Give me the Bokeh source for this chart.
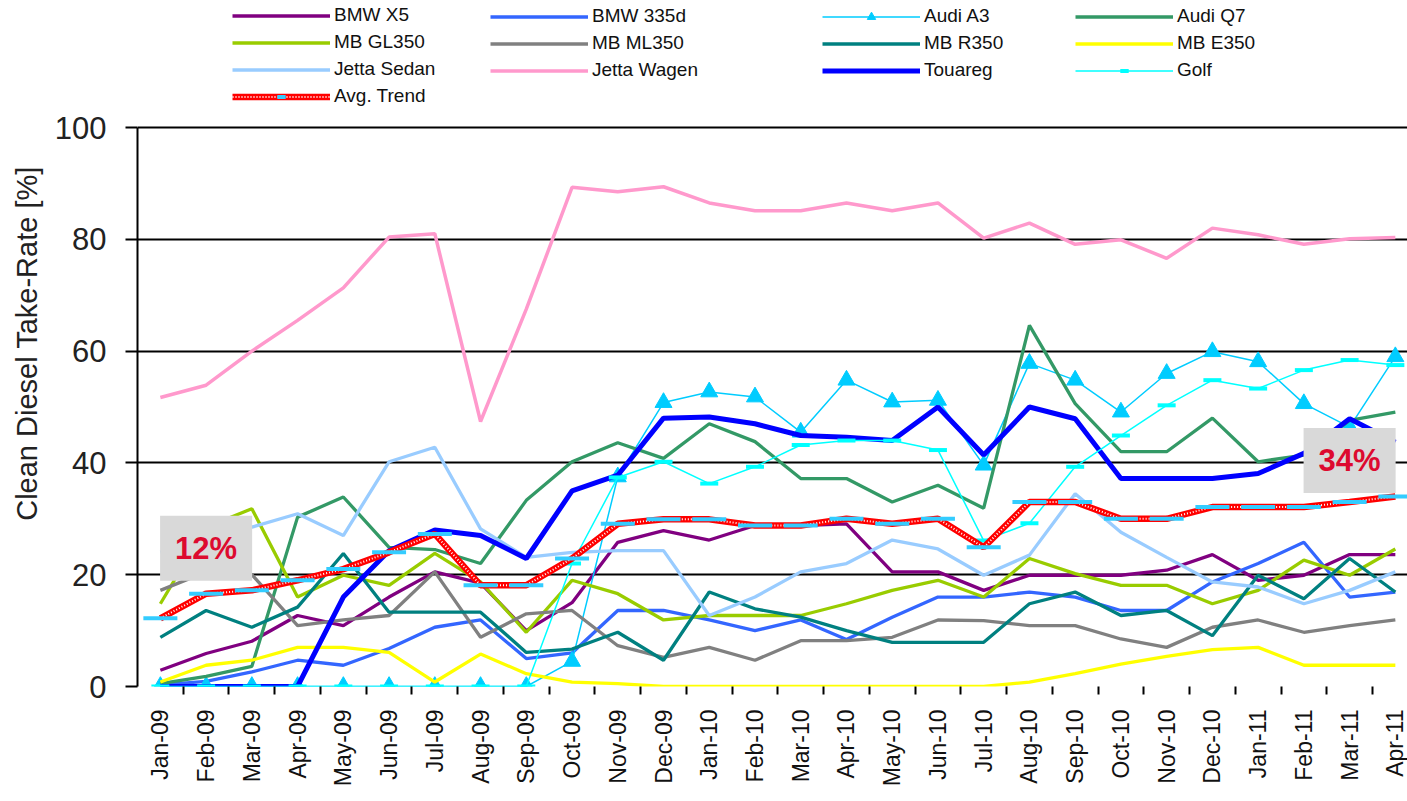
from math import pi
from bokeh.plotting import figure
from bokeh.models import (Range1d, FixedTicker, Legend, LegendItem, Label,
                          ColumnDataSource)
from bokeh.embed import file_html
from bokeh.resources import INLINE

months = ["Jan-09", "Feb-09", "Mar-09", "Apr-09", "May-09", "Jun-09", "Jul-09",
          "Aug-09", "Sep-09", "Oct-09", "Nov-09", "Dec-09", "Jan-10", "Feb-10",
          "Mar-10", "Apr-10", "May-10", "Jun-10", "Jul-10", "Aug-10", "Sep-10",
          "Oct-10", "Nov-10", "Dec-10", "Jan-11", "Feb-11", "Mar-11", "Apr-11"]

bmw_x5 = [2.9, 5.9, 8.1, 12.7, 10.9, 16.0, 20.5, 18.5, 10.0, 15.0,
          25.8, 27.9, 26.2, 28.8, 28.8, 29.1, 20.5, 20.5, 17.2, 19.9,
          19.9, 19.9, 20.8, 23.6, 19.0, 19.9, 23.6, 23.6]
bmw_335d = [0.3, 0.9, 2.6, 4.7, 3.8, 6.8, 10.6, 11.9, 5.0, 6.0,
            13.6, 13.6, 11.9, 10.0, 11.9, 8.4, 12.4, 16.0, 16.0, 16.9,
            16.0, 13.6, 13.6, 18.7, 22.0, 25.8, 16.0, 16.9]
audi_a3 = [0, 0, 0, 0, 0, 0, 0, 0, 0, 4.5,
           37.5, 50.8, 52.7, 51.8, 45.5, 54.8, 50.9, 51.2, 39.6, 57.8,
           54.8, 49.1, 56.0, 59.9, 58.1, 50.6, 46.4, 59.0]
audi_q7 = [0.5, 1.8, 3.6, 30.3, 33.9, 24.9, 24.5, 22.0, 33.3, 40.2,
           43.6, 40.8, 47.0, 43.8, 37.2, 37.2, 33.0, 36.0, 31.9, 64.6,
           50.6, 42.0, 42.0, 48.0, 40.2, 41.4, 47.6, 49.1]
mb_gl350 = [14.8, 28.5, 31.8, 16.0, 19.9, 18.1, 23.8, 18.7, 9.7, 19.0,
            16.6, 11.9, 12.7, 12.7, 12.7, 14.8, 17.2, 19.0, 16.0, 22.9,
            20.2, 18.1, 18.1, 14.8, 17.2, 22.6, 19.9, 24.6]
mb_ml350 = [17.2, 20.5, 20.0, 10.9, 11.9, 12.7, 20.5, 8.8, 13.0, 13.6,
            7.3, 5.2, 7.0, 4.7, 8.2, 8.2, 8.8, 11.9, 11.8, 10.9,
            10.9, 8.5, 7.0, 10.6, 11.9, 9.7, 10.9, 11.9]
mb_r350 = [8.8, 13.6, 10.6, 14.2, 23.8, 13.3, 13.3, 13.3, 6.1, 6.7,
           9.7, 4.7, 16.9, 13.9, 12.4, 10.0, 7.9, 7.9, 7.9, 14.8,
           16.9, 12.7, 13.6, 9.1, 19.9, 15.7, 22.9, 16.9]
mb_e350 = [0.8, 3.8, 4.7, 7.0, 7.0, 6.1, 0.8, 5.8, 2.3, 0.8,
           0.5, 0, 0, 0, 0, 0, 0, 0, 0, 0.8,
           2.3, 4.0, 5.4, 6.6, 7.0, 3.8, 3.8, 3.8]
jetta_sedan = [24.0, 27.0, 28.5, 30.9, 27.0, 40.2, 42.8, 28.2, 23.1, 24.0,
               24.3, 24.3, 12.7, 16.0, 20.5, 22.0, 26.2, 24.6, 19.9, 23.5,
               34.5, 27.6, 23.1, 18.7, 17.8, 14.8, 17.2, 20.5]
jetta_wagen = [51.7, 53.9, 60.0, 65.5, 71.3, 80.4, 81.0, 47.4, 67.5, 89.3,
               88.5, 89.4, 86.5, 85.1, 85.1, 86.5, 85.1, 86.5, 80.2, 82.9,
               79.1, 79.9, 76.6, 82.0, 80.8, 79.1, 80.1, 80.3]
touareg = [0, 0, 0, 0, 16.0, 24.3, 28.0, 27.0, 22.9, 35.0,
           37.8, 48.0, 48.2, 47.0, 44.9, 44.6, 44.0, 50.0, 41.4, 50.0,
           47.9, 37.2, 37.2, 37.2, 38.1, 41.7, 47.9, 43.7]
golf = [0, 0, 0, 0, 0, 0, 0, 0, 0, 22.0,
        37.4, 40.2, 36.3, 39.3, 43.2, 44.0, 44.0, 42.3, 26.1, 29.2,
        39.3, 44.9, 50.3, 54.8, 53.3, 56.6, 58.4, 57.5]
avg_trend = [12.2, 16.6, 17.2, 19.0, 21.0, 24.0, 27.3, 18.1, 18.1, 22.9,
             29.1, 29.9, 29.9, 28.8, 28.8, 30.0, 29.1, 30.0, 24.9, 33.0,
             33.0, 30.0, 30.0, 32.1, 32.1, 32.1, 33.0, 34.0]

y_ticks = [0, 20, 40, 60, 80, 100]

FONT = "Liberation Sans"
idx = list(range(len(months)))
src = ColumnDataSource(dict(
    x=idx, bmw_x5=bmw_x5, bmw_335d=bmw_335d, audi_a3=audi_a3, audi_q7=audi_q7,
    mb_gl350=mb_gl350, mb_ml350=mb_ml350, mb_r350=mb_r350, mb_e350=mb_e350,
    jetta_sedan=jetta_sedan, jetta_wagen=jetta_wagen, touareg=touareg,
    golf=golf, avg_trend=avg_trend))

# geometry: the frame reaches the top of the canvas so that the legend
# (drawn inside the frame) sits above the 0-100 value area
W, H = 1407, 795
BL, BB = 137, 109
TOP_100 = 127                 # canvas y of the 100 line
FRAME_W = W - BL
FRAME_H = H - BB              # frame spans canvas y 0 .. FRAME_H
PX_PER_UNIT = (FRAME_H - TOP_100) / 100.0
PX_PER_CAT = 45.74
x_start = -0.5
x_end = x_start + FRAME_W / PX_PER_CAT
y_end = FRAME_H / PX_PER_UNIT

p = figure(width=W, height=H, output_backend="svg", toolbar_location=None,
           x_range=Range1d(x_start, x_end), y_range=Range1d(0, y_end),
           min_border_left=BL, min_border_right=0, min_border_top=0,
           min_border_bottom=BB)
p.outline_line_color = None
p.background_fill_color = "white"

# axes
p.xaxis.ticker = FixedTicker(ticks=idx, minor_ticks=[i + 0.5 for i in idx[:-1]])
p.xaxis.major_label_overrides = {i: m for i, m in enumerate(months)}
p.xaxis.major_label_orientation = pi / 2
p.xaxis.major_tick_out = 0
p.xaxis.major_tick_in = 0
p.xaxis.minor_tick_out = 8
p.xaxis.minor_tick_in = 0
p.xaxis.minor_tick_line_color = "black"
p.xaxis.minor_tick_line_width = 2
p.xaxis.axis_line_color = None
p.xaxis.major_label_text_font = FONT
p.xaxis.major_label_text_font_size = "23px"
p.xaxis.major_label_text_color = "#111111"
p.xaxis.major_label_standoff = 15

p.yaxis.bounds = (0, 100)
p.yaxis.ticker = FixedTicker(ticks=y_ticks)
p.yaxis.major_tick_out = 12
p.yaxis.major_tick_in = 0
p.yaxis.major_tick_line_width = 2
p.yaxis.major_tick_line_color = "black"
p.yaxis.minor_tick_line_color = None
p.yaxis.axis_line_color = "black"
p.yaxis.axis_line_width = 2
p.yaxis.major_label_text_font = FONT
p.yaxis.major_label_text_font_size = "31px"
p.yaxis.major_label_text_color = "#222222"
p.yaxis.major_label_standoff = 19
p.yaxis.axis_label = "Clean Diesel Take-Rate [%]"
p.yaxis.axis_label_text_font = FONT
p.yaxis.axis_label_text_font_size = "29px"
p.yaxis.axis_label_text_font_style = "normal"
p.yaxis.axis_label_text_color = "#222222"
p.yaxis.axis_label_standoff = 9

p.xgrid.grid_line_color = None
p.ygrid.ticker = FixedTicker(ticks=y_ticks)
p.ygrid.grid_line_color = "black"
p.ygrid.grid_line_width = 2

# series
def ln(col, color, width):
    return p.line("x", col, source=src, line_color=color, line_width=width)

r_x5 = ln("bmw_x5", "#800080", 3.3)
r_335 = ln("bmw_335d", "#3366FF", 3.3)
r_a3 = ln("audi_a3", "#00CCFF", 1.5)
r_a3m = p.scatter("x", "audi_a3", source=src, marker="triangle", size=17,
                  fill_color="#00CCFF", line_color="#00CCFF")
r_q7 = ln("audi_q7", "#339966", 3.3)
r_gl = ln("mb_gl350", "#99CC00", 3.3)
r_ml = ln("mb_ml350", "#808080", 3.3)
r_r = ln("mb_r350", "#008080", 3.3)
r_e = ln("mb_e350", "#FFFF00", 3.3)
r_js = ln("jetta_sedan", "#99CCFF", 3.3)
r_jw = ln("jetta_wagen", "#FF99CC", 3.5)
r_t = ln("touareg", "#0000FF", 5)
r_g = ln("golf", "#00FFFF", 1.5)
r_gm = p.scatter("x", "golf", source=src, marker="dash", size=18,
                 line_color="#00FFFF", line_width=4)
r_av = ln("avg_trend", "#FF0000", 6.5)
r_avd = p.line("x", "avg_trend", source=src, line_color="white", line_width=2,
               line_dash="1 2")
r_avm = p.scatter("x", "avg_trend", source=src, marker="dash", size=34,
                  line_color="#33CCFF", line_width=4)

# legend: four columns at the top of the frame
ROW_H, ROW_GAP, LEG_TOP = 21, 5, 8
columns = [
    [("BMW X5", [r_x5]), ("MB GL350", [r_gl]), ("Jetta Sedan", [r_js]),
     ("Avg. Trend", [r_av, r_avd, r_avm])],
    [("BMW 335d", [r_335]), ("MB ML350", [r_ml]), ("Jetta Wagen", [r_jw])],
    [("Audi A3", [r_a3, r_a3m]), ("MB R350", [r_r]), ("Touareg", [r_t])],
    [("Audi Q7", [r_q7]), ("MB E350", [r_e]), ("Golf", [r_g, r_gm])],
]
col_x = [95, 353, 685, 938]
for cx, items in zip(col_x, columns):
    n = len(items)
    leg_h = n * ROW_H + (n - 1) * ROW_GAP
    leg = Legend(items=[LegendItem(label=l, renderers=r) for l, r in items],
                 location=(cx, FRAME_H - LEG_TOP - leg_h), padding=0, margin=0,
                 spacing=ROW_GAP, glyph_height=ROW_H, glyph_width=98,
                 label_height=ROW_H, label_standoff=4, label_text_font=FONT,
                 label_text_font_size="19px", label_text_color="#111111",
                 background_fill_alpha=0, border_line_alpha=0)
    p.add_layout(leg)

# value call-outs
for xi, yv, dy in [(1, avg_trend[0], 70), (len(months) - 2, avg_trend[-1], 36)]:
    p.add_layout(Label(x=xi, y=yv, y_offset=dy, text=f"{yv:.0f}%",
                       text_align="center", text_baseline="middle",
                       text_font=FONT, text_font_style="bold",
                       text_font_size="31px", text_color="#DD0A2F",
                       background_fill_color="#D9D9D9", padding=15))

open("out.html", "w").write(file_html(p, INLINE))
